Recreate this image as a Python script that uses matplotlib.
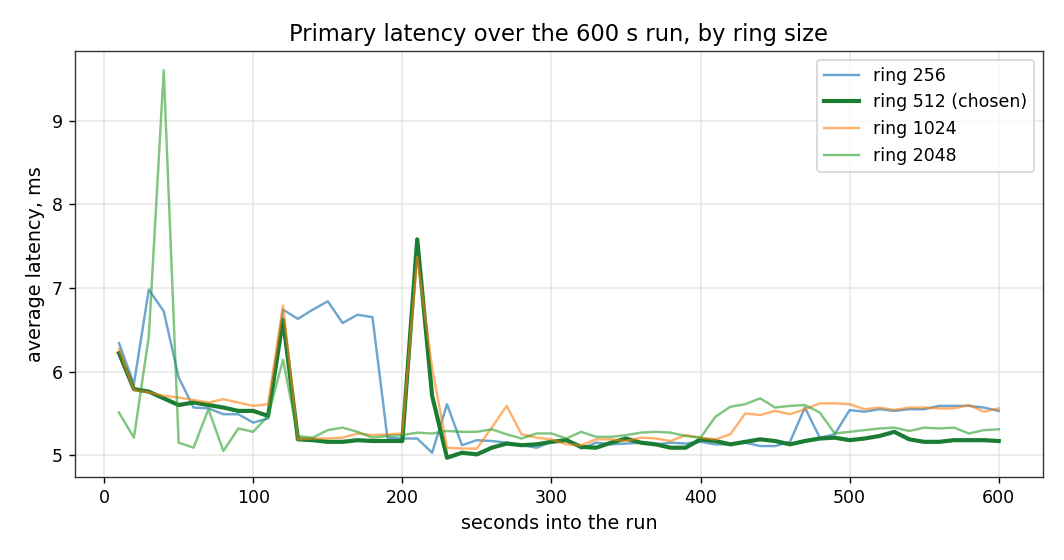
import numpy as np
import matplotlib
matplotlib.use('Agg')
import matplotlib.pyplot as plt

# seconds into the run, one sample every 10 s
seconds = np.arange(10, 601, 10)

ring_256 = [6.34, 5.85, 6.98, 6.72, 5.93, 5.57, 5.56, 5.49, 5.49, 5.39,
            5.44, 6.74, 6.63, 6.74, 6.84, 6.58, 6.68, 6.65, 5.21, 5.20,
            5.20, 5.03, 5.61, 5.12, 5.18, 5.17, 5.15, 5.12, 5.09, 5.16,
            5.19, 5.08, 5.15, 5.13, 5.14, 5.15, 5.13, 5.15, 5.14, 5.16,
            5.13, 5.13, 5.15, 5.11, 5.11, 5.16, 5.57, 5.21, 5.25, 5.54,
            5.52, 5.55, 5.53, 5.55, 5.55, 5.59, 5.59, 5.59, 5.57, 5.53]

ring_512 = [6.22, 5.79, 5.76, 5.68, 5.60, 5.63, 5.60, 5.57, 5.53, 5.53,
            5.47, 6.62, 5.19, 5.18, 5.16, 5.16, 5.18, 5.17, 5.17, 5.17,
            7.58, 5.71, 4.97, 5.03, 5.01, 5.09, 5.14, 5.12, 5.13, 5.16,
            5.18, 5.10, 5.09, 5.15, 5.20, 5.15, 5.13, 5.09, 5.09, 5.19,
            5.17, 5.13, 5.16, 5.19, 5.17, 5.13, 5.17, 5.20, 5.21, 5.18,
            5.20, 5.23, 5.28, 5.19, 5.16, 5.16, 5.18, 5.18, 5.18, 5.17]

ring_1024 = [6.27, 5.78, 5.75, 5.71, 5.69, 5.66, 5.63, 5.67, 5.63, 5.59,
             5.61, 6.79, 5.19, 5.20, 5.20, 5.21, 5.26, 5.24, 5.25, 5.26,
             7.37, 6.04, 5.09, 5.08, 5.08, 5.33, 5.59, 5.25, 5.21, 5.19,
             5.13, 5.12, 5.19, 5.19, 5.17, 5.21, 5.20, 5.17, 5.24, 5.21,
             5.19, 5.25, 5.50, 5.48, 5.53, 5.49, 5.55, 5.62, 5.62, 5.61,
             5.55, 5.57, 5.54, 5.57, 5.57, 5.56, 5.56, 5.60, 5.52, 5.56]

ring_2048 = [5.51, 5.21, 6.42, 9.60, 5.15, 5.09, 5.55, 5.05, 5.32, 5.28,
             5.47, 6.14, 5.23, 5.21, 5.30, 5.33, 5.28, 5.21, 5.23, 5.24,
             5.27, 5.26, 5.29, 5.28, 5.28, 5.31, 5.25, 5.20, 5.26, 5.26,
             5.20, 5.28, 5.22, 5.22, 5.24, 5.27, 5.28, 5.27, 5.23, 5.21,
             5.46, 5.58, 5.61, 5.68, 5.57, 5.59, 5.60, 5.51, 5.26, 5.28,
             5.30, 5.32, 5.33, 5.29, 5.33, 5.32, 5.33, 5.26, 5.30, 5.31]

fig, ax = plt.subplots(figsize=(8.512, 4.48), dpi=125)
fig.subplots_adjust(left=0.0705, right=0.98, bottom=0.148, top=0.909)

ax.plot(seconds, ring_256, color='#1f77b4', alpha=0.65, lw=1.4, label='ring 256')
ax.plot(seconds, ring_512, color='#1b7d33', lw=2.4, label='ring 512 (chosen)')
ax.plot(seconds, ring_1024, color='#ff7f0e', alpha=0.6, lw=1.4, label='ring 1024')
ax.plot(seconds, ring_2048, color='#2ca02c', alpha=0.6, lw=1.4, label='ring 2048')

ax.set_title('Primary latency over the 600 s run, by ring size', fontsize=13)
ax.set_xlabel('seconds into the run', fontsize=11)
ax.set_ylabel('average latency, ms', fontsize=11)
ax.tick_params(labelsize=10)
ax.grid(True, color='#dddddd', alpha=0.7, lw=0.9)
for s in ax.spines.values():
    s.set_color('#333333')
ax.legend(loc='upper right', fontsize=10)

fig.savefig('out.png', dpi=125)
